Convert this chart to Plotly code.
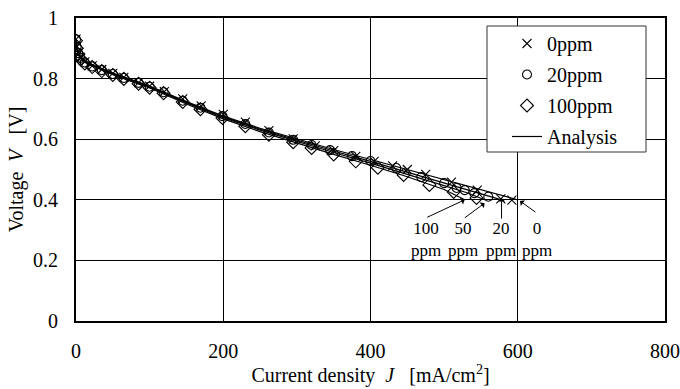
import plotly.graph_objects as go

# ---------------- data ----------------
# measured points, 0 ppm (x markers)
j_0ppm = [0, 1, 3, 6, 12, 22, 35, 50, 65, 85, 100, 120, 145, 170, 200, 230, 262, 295,
          325, 350, 380, 405, 430, 450, 475, 510, 545, 577, 592]
v_0ppm = [0.930, 0.905, 0.885, 0.870, 0.855, 0.842, 0.830, 0.817, 0.804, 0.787, 0.775,
          0.757, 0.733, 0.710, 0.682, 0.656, 0.628, 0.601, 0.578, 0.562, 0.543, 0.527,
          0.512, 0.500, 0.484, 0.458, 0.432, 0.403, 0.399]

# measured points, 20 ppm (circles)
j_20ppm = [0, 1, 3, 6, 12, 22, 35, 50, 65, 85, 100, 119, 145, 169, 199, 230, 262, 295,
           320, 345, 375, 400, 435, 469, 500, 517, 528, 541, 560]
v_20ppm = [0.930, 0.905, 0.884, 0.868, 0.853, 0.840, 0.828, 0.815, 0.802, 0.786, 0.773,
           0.755, 0.727, 0.704, 0.676, 0.650, 0.622, 0.598, 0.581, 0.564, 0.544, 0.528,
           0.505, 0.475, 0.455, 0.439, 0.432, 0.422, 0.410]

# measured points, 100 ppm (diamonds)
j_100ppm = [0, 1, 3, 6, 12, 22, 35, 50, 65, 85, 100, 119, 145, 169, 199, 230, 262, 295,
            320, 350, 380, 410, 445, 480, 513, 544]
v_100ppm = [0.925, 0.900, 0.880, 0.865, 0.850, 0.838, 0.825, 0.812, 0.799, 0.783, 0.770,
            0.752, 0.723, 0.699, 0.670, 0.643, 0.615, 0.590, 0.571, 0.550, 0.527, 0.506,
            0.482, 0.449, 0.426, 0.406]

# analysis curves
j_ana_0 = [0, 2, 5, 10, 20, 35, 50, 75, 100, 150, 200, 250, 300, 350, 400, 450, 500, 550, 600]
v_ana_0 = [0.930, 0.895, 0.875, 0.862, 0.848, 0.832, 0.818, 0.797, 0.775, 0.724, 0.676,
           0.636, 0.600, 0.566, 0.533, 0.500, 0.467, 0.434, 0.400]
j_ana_20 = [0, 2, 5, 10, 20, 35, 50, 75, 100, 150, 200, 250, 300, 350, 400, 450, 500, 550, 578]
v_ana_20 = [0.930, 0.895, 0.874, 0.861, 0.847, 0.831, 0.817, 0.796, 0.774, 0.722, 0.674,
            0.633, 0.596, 0.561, 0.527, 0.492, 0.457, 0.421, 0.400]
j_ana_50 = [0, 2, 5, 10, 20, 35, 50, 75, 100, 150, 200, 250, 300, 350, 400, 450, 500, 530, 555]
v_ana_50 = [0.930, 0.894, 0.873, 0.860, 0.846, 0.830, 0.816, 0.794, 0.772, 0.720, 0.671,
            0.630, 0.592, 0.556, 0.521, 0.485, 0.447, 0.424, 0.400]
j_ana_100 = [0, 2, 5, 10, 20, 35, 50, 75, 100, 150, 200, 250, 300, 350, 400, 450, 500, 528]
v_ana_100 = [0.928, 0.892, 0.871, 0.858, 0.844, 0.828, 0.813, 0.791, 0.769, 0.716, 0.667,
             0.625, 0.587, 0.550, 0.514, 0.476, 0.434, 0.400]

# labels of curve ends
end_labels = ["100<br>ppm", "50<br>ppm", "20<br>ppm", "0<br>ppm"]
end_label_j = [476, 526, 577, 626]
end_tip_j = [528, 555, 578, 603]
end_tip_v = [0.400, 0.389, 0.406, 0.396]
end_tail_j = [475, 526, 578, 626]
end_tail_v = [0.340, 0.337, 0.333, 0.356]

x_ticks = [0, 200, 400, 600, 800]
y_ticks = [0, 0.2, 0.4, 0.6, 0.8, 1]
y_tick_text = ["0", "0.2", "0.4", "0.6", "0.8", "1"]

FONT = "Liberation Serif"

fig = go.Figure()

for jj, vv in [(j_ana_0, v_ana_0), (j_ana_20, v_ana_20), (j_ana_50, v_ana_50), (j_ana_100, v_ana_100)]:
    fig.add_trace(go.Scatter(x=jj, y=vv, mode="lines", line=dict(color="black", width=1.2),
                             showlegend=False, hoverinfo="skip"))

fig.add_trace(go.Scatter(x=j_0ppm, y=v_0ppm, mode="markers", name="0ppm", legendgroup="a",
                         marker=dict(symbol="x-thin-open", size=9, line=dict(color="black", width=1.1),
                                     color="black")))
fig.add_trace(go.Scatter(x=j_20ppm, y=v_20ppm, mode="markers", name="20ppm", legendgroup="b",
                         marker=dict(symbol="circle-open", size=9, line=dict(color="black", width=1.1),
                                     color="black")))
fig.add_trace(go.Scatter(x=j_100ppm, y=v_100ppm, mode="markers", name="100ppm", legendgroup="c",
                         marker=dict(symbol="diamond-open", size=10, line=dict(color="black", width=1.1),
                                     color="black")))
fig.add_trace(go.Scatter(x=[None], y=[None], mode="lines", name="Analysis", legendgroup="d",
                         line=dict(color="black", width=1.2)))

# legend frame (covers grid lines)
fig.add_shape(type="rect", xref="paper", yref="paper",
              x0=(487 - 76) / 589, x1=(646 - 76) / 589,
              y0=(321 - 152) / 303, y1=(321 - 26) / 303,
              fillcolor="white", line=dict(color="#333", width=1), layer="above")

# end labels and arrows
for lab, lj, tj, tv, aj, av in zip(end_labels, end_label_j, end_tip_j, end_tip_v, end_tail_j, end_tail_v):
    fig.add_annotation(x=lj, y=0.268, text=lab, showarrow=False,
                       font=dict(family=FONT, size=17, color="black"))
    fig.add_annotation(x=tj, y=tv, ax=aj, ay=av, axref="x", ayref="y", xref="x", yref="y",
                       text="", showarrow=True, arrowhead=1, arrowsize=1.2, arrowwidth=1,
                       arrowcolor="black")

fig.update_layout(
    width=680, height=389,
    margin=dict(l=76, r=15, t=18, b=68),
    paper_bgcolor="white", plot_bgcolor="white",
    font=dict(family=FONT, size=20, color="black"),
    showlegend=True,
    legend=dict(x=(507 - 76) / 589, y=(321 - 24) / 303, xanchor="left", yanchor="top",
                bgcolor="rgba(0,0,0,0)", borderwidth=0, traceorder="grouped",
                tracegroupgap=2, itemwidth=30,
                font=dict(family=FONT, size=20, color="black")),
    xaxis=dict(range=[0, 800], tickvals=x_ticks, ticks="", showgrid=True, gridcolor="black",
               gridwidth=1, showline=True, linecolor="black", linewidth=2, mirror=True,
               zeroline=False, ticklabelstandoff=11, automargin=False,
               tickfont=dict(family=FONT, size=20),
               title=dict(text="Current density\u00a0\u00a0<i>J</i>\u00a0\u00a0\u00a0[mA/cm<sup>2</sup>]",
                          standoff=3, font=dict(family=FONT, size=20))),
    yaxis=dict(range=[0, 1], tickvals=y_ticks, ticktext=y_tick_text, ticks="", showgrid=True,
               gridcolor="black", gridwidth=1, showline=True, linecolor="black", linewidth=2,
               mirror=True, zeroline=False, ticklabelstandoff=12, automargin=False,
               tickfont=dict(family=FONT, size=20),
               title=dict(text="Voltage\u00a0\u00a0<i>V</i>\u00a0\u00a0\u00a0[V]", standoff=4,
                          font=dict(family=FONT, size=20))),
)

fig.write_html("out.html")
